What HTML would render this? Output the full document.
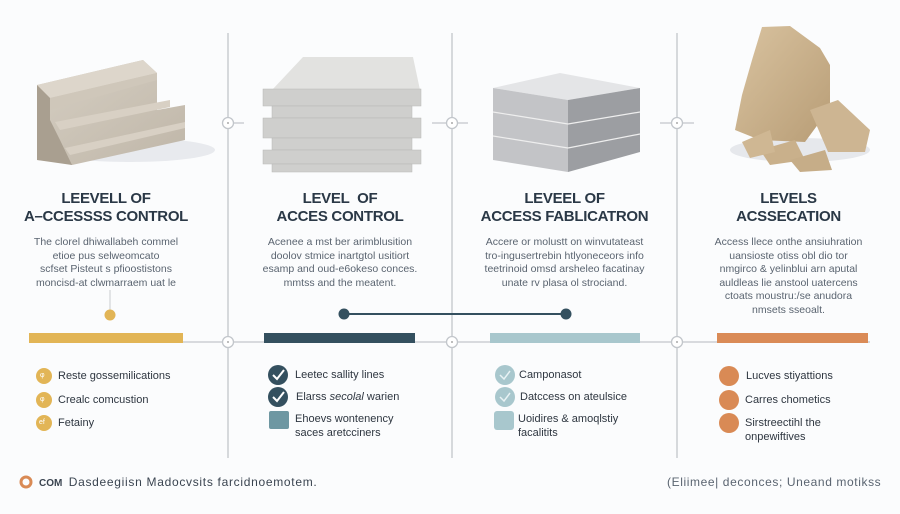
<!DOCTYPE html>
<html><head><meta charset="utf-8"><style>
*{margin:0;padding:0;box-sizing:border-box}
body{width:900px;height:514px;background:#fbfcfd;font-family:"Liberation Sans",sans-serif;position:relative;overflow:hidden}
.a{position:absolute}
.t{position:absolute;text-align:center;font-weight:bold;color:#2a3846;font-size:15px;line-height:18px;letter-spacing:-0.3px}
.b{position:absolute;text-align:center;color:#5a6470;font-size:10.5px;line-height:13.5px}
.li{position:absolute;font-size:11px;color:#2e3640;line-height:14px}
.ic{position:absolute;border-radius:50%}
</style></head><body>
<svg class="a" style="left:0;top:0" width="900" height="514">
<defs>
<linearGradient id="st" x1="0" y1="0" x2="1" y2="1"><stop offset="0" stop-color="#d6cfc3"/><stop offset="1" stop-color="#bfb6a8"/></linearGradient>
<linearGradient id="rk" x1="0" y1="0" x2="1" y2="1"><stop offset="0" stop-color="#d9c3a0"/><stop offset="1" stop-color="#b89d76"/></linearGradient>
</defs>
<g stroke="#c2c6cb" stroke-width="1.3" fill="none">
<line x1="228" y1="33" x2="228" y2="458"/><line x1="452" y1="33" x2="452" y2="458"/><line x1="677" y1="33" x2="677" y2="458"/>
<line x1="30" y1="342" x2="870" y2="342"/>
<line x1="222" y1="123" x2="244" y2="123"/><line x1="432" y1="123" x2="468" y2="123"/><line x1="660" y1="123" x2="694" y2="123"/>
</g>
<g fill="#fff" stroke="#c2c6cb" stroke-width="1.3">
<circle cx="228" cy="123" r="5.5"/><circle cx="452" cy="123" r="5.5"/><circle cx="677" cy="123" r="5.5"/>
<circle cx="228" cy="342" r="5.5"/><circle cx="452" cy="342" r="5.5"/><circle cx="677" cy="342" r="5.5"/>
</g>
<g fill="#aaa"><circle cx="228" cy="123" r="1"/><circle cx="452" cy="123" r="1"/><circle cx="677" cy="123" r="1"/><circle cx="228" cy="342" r="1"/><circle cx="452" cy="342" r="1"/><circle cx="677" cy="342" r="1"/></g>
<!-- stairs -->
<ellipse cx="130" cy="150" rx="85" ry="12" fill="#e8eaee"/>
<polygon points="37,85 143,60 157,73 157,110 185,105 185,140 72,165 60,162 37,160" fill="url(#st)"/>
<polygon points="37,85 143,60 157,73 50,98" fill="#ddd6cb"/>
<polygon points="37,85 50,98 50,120 60,140 72,165 37,160" fill="#a99f90"/>
<polygon points="50,98 157,73 157,80 50,110" fill="#cfc7ba"/>
<polygon points="55,122 170,100 170,107 60,130" fill="#d8d0c4"/>
<polygon points="65,148 185,122 185,128 70,155" fill="#d8d0c4"/>
<!-- slabs -->
<polygon points="303,57 413,57 420,90 272,90" fill="#e2e2e0"/>
<g fill="#cfcfcd" stroke="#b8b8b6" stroke-width="0.5">
<rect x="263" y="89" width="158" height="17"/><rect x="272" y="106" width="140" height="12"/>
<rect x="263" y="118" width="158" height="20"/><rect x="272" y="138" width="140" height="12"/>
<rect x="263" y="150" width="158" height="14"/><rect x="272" y="164" width="140" height="8"/>
</g>
<!-- cube -->
<polygon points="493,88 560,73 640,88 568,100" fill="#e4e5e7"/>
<polygon points="493,88 568,100 568,172 493,160" fill="#c3c4c7"/>
<polygon points="568,100 640,88 640,152 568,172" fill="#9c9ea2"/>
<g stroke="#eee" stroke-width="1.2"><line x1="493" y1="112" x2="568" y2="124"/><line x1="493" y1="136" x2="568" y2="148"/><line x1="568" y1="124" x2="640" y2="112"/><line x1="568" y1="148" x2="640" y2="134"/></g>
<!-- rocks -->
<ellipse cx="800" cy="150" rx="70" ry="12" fill="#e6e8ec"/>
<polygon points="762,27 790,26 820,48 830,65 830,108 805,142 760,140 735,130 742,95 752,60" fill="url(#rk)"/>
<polygon points="810,110 838,100 870,130 865,152 828,152" fill="#cdb592"/>
<polygon points="760,150 795,140 805,160 770,165" fill="#c9b08b"/>
<polygon points="790,160 825,150 832,170 800,172" fill="#c6ad88"/>
<polygon points="742,142 770,130 775,152 750,158" fill="#cfb793"/>
<!-- bars -->
<rect x="29" y="333" width="154" height="10" fill="#e2b556"/>
<rect x="264" y="333" width="151" height="10" fill="#34505f"/>
<rect x="490" y="333" width="150" height="10" fill="#a8c7cd"/>
<rect x="717" y="333" width="151" height="10" fill="#da8b57"/>
<line x1="110" y1="290" x2="110" y2="312" stroke="#c9ccd0" stroke-width="1"/>
<circle cx="110" cy="315" r="5.5" fill="#e2b556"/>
<line x1="344" y1="314" x2="566" y2="314" stroke="#34505f" stroke-width="2"/>
<circle cx="344" cy="314" r="5.5" fill="#34505f"/><circle cx="566" cy="314" r="5.5" fill="#34505f"/>
<!-- icons -->
<g fill="#e2b556"><circle cx="44" cy="376" r="8"/><circle cx="44" cy="400" r="8"/><circle cx="44" cy="423" r="8"/></g>
<g fill="#34505f"><circle cx="278" cy="375" r="10"/><circle cx="278" cy="397" r="10"/></g>
<rect x="269" y="411" width="20" height="18" rx="2" fill="#6e97a2"/>
<g fill="#a8c7cd"><circle cx="505" cy="375" r="10"/><circle cx="505" cy="397" r="10"/></g>
<rect x="494" y="411" width="20" height="19" rx="3" fill="#a8c7cd"/>
<g fill="none" stroke="#fff" stroke-width="2"><polyline points="273,375 277,379 284,370"/><polyline points="273,397 277,401 284,392"/></g>
<g fill="none" stroke="#e8f2f4" stroke-width="1.5"><polyline points="500,375 504,379 510,371"/><polyline points="500,397 504,401 510,393"/></g>
<g fill="#d98a55"><circle cx="729" cy="376" r="10"/><circle cx="729" cy="400" r="10"/><circle cx="729" cy="423" r="10"/></g>
<circle cx="26" cy="482" r="5" fill="none" stroke="#d98a55" stroke-width="3"/>
</svg>
<div class="a" style="left:40px;top:372px;font-size:7px;color:#fff">φ</div>
<div class="a" style="left:40px;top:396px;font-size:7px;color:#fff">φ</div>
<div class="a" style="left:39px;top:419px;font-size:7px;color:#fff">ef</div>

<div class="t" style="left:0;top:190px;width:212px">LEEVELL OF<br>A–CCESSSS CONTROL</div>
<div class="t" style="left:228px;top:190px;width:224px">LEVEL&nbsp; OF<br>ACCES CONTROL</div>
<div class="t" style="left:452px;top:190px;width:225px">LEVEEL OF<br>ACCESS FABLICATRON</div>
<div class="t" style="left:677px;top:190px;width:223px">LEVELS<br>ACSSECATION</div>

<div class="b" style="left:0;top:236px;width:212px">The clorel dhiwallabeh commel<br>etioe pus selweomcato<br>scfset Pisteut s pfioostistons<br>moncisd-at clwmarraem uat le</div>
<div class="b" style="left:228px;top:236px;width:224px">Acenee a mst ber arimblusition<br>doolov stmice inartgtol usitiort<br>esamp and oud-e6okeso conces.<br>mmtss and the meatent.</div>
<div class="b" style="left:452px;top:236px;width:225px">Accere or molustt on winvutateast<br>tro-ingusertrebin htlyoneceors info<br>teetrinoid omsd arsheleo facatinay<br>unate rv plasa ol strociand.</div>
<div class="b" style="left:677px;top:236px;width:223px">Access llece onthe ansiuhration<br>uansioste otiss obl dio tor<br>nmgirco &amp; yelinblui arn aputal<br>auldleas lie anstool uatercens<br>ctoats moustru:/se anudora<br>nmsets sseoalt.</div>

<div class="li" style="left:58px;top:369px">Reste gossemilications</div>
<div class="li" style="left:58px;top:393px">Crealc comcustion</div>
<div class="li" style="left:58px;top:416px">Fetainy</div>
<div class="li" style="left:295px;top:368px">Leetec sallity lines</div>
<div class="li" style="left:296px;top:390px">Elarss <i>secolal</i> warien</div>
<div class="li" style="left:295px;top:412px">Ehoevs wontenency<br>saces aretcciners</div>
<div class="li" style="left:519px;top:368px">Camponasot</div>
<div class="li" style="left:520px;top:390px">Datccess on ateulsice</div>
<div class="li" style="left:518px;top:412px">Uoidires &amp; amoqlstiy<br>facalitits</div>
<div class="li" style="left:746px;top:369px">Lucves stiyattions</div>
<div class="li" style="left:745px;top:393px">Carres chometics</div>
<div class="li" style="left:745px;top:416px">Sirstreectihl the<br>onpewiftives</div>

<div class="a" style="left:39px;top:475px;font-size:11.5px;color:#3a4450"><b style="font-size:10px">COM</b>&nbsp; <span style="font-size:12px;letter-spacing:0.7px">Dasdeegiisn Madocvsits farcidnoemotem.</span></div>
<div class="a" style="left:667px;top:475px;font-size:12px;letter-spacing:0.6px;color:#5a6470">(Eliimee| deconces; Uneand motikss</div>
</body></html>
